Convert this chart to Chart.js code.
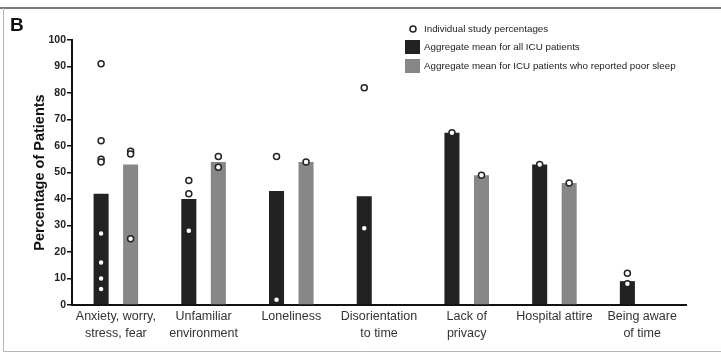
<!DOCTYPE html>
<html>
<head>
<meta charset="utf-8">
<script src="https://cdn.jsdelivr.net/npm/chart.js@4/dist/chart.umd.min.js"></script>
<style>
  html, body { margin: 0; padding: 0; background: #fff; }
  #wrap { width: 721px; height: 353px; position: relative; }
</style>
</head>
<body>
<div id="wrap"><canvas id="c" width="721" height="353"></canvas></div>
<script>
// Sleep-disturbing factors reported by ICU patients
const categories = [
  ['Anxiety, worry,', 'stress, fear'],
  ['Unfamiliar', 'environment'],
  ['Loneliness'],
  ['Disorientation', 'to time'],
  ['Lack of', 'privacy'],
  ['Hospital attire'],
  ['Being aware', 'of time']
];

// Aggregate means (%)
const meanAll  = [42, 40, 43, 41, 65, 53, 9];
const meanPoor = [53, 54, 54, null, 49, 46, null];

// Individual study percentages per category
const studyAll  = [[91, 62, 55, 54, 27, 16, 10, 6], [47, 42, 28], [56, 2], [82, 29], [65], [53], [12, 8]];
const studyPoor = [[58, 57, 25], [56, 52], [54], [], [49], [46], []];

const yTicks = [0, 10, 20, 30, 40, 50, 60, 70, 80, 90, 100];

const legendLabels = [
  'Individual study percentages',
  'Aggregate mean for all ICU patients',
  'Aggregate mean for ICU patients who reported poor sleep'
];

const DARK = '#222222';
const GREY = '#878787';
const CAT_PCT = 0.673;
const BAR_PCT = 0.51;

function drawDot(ctx, x, y) {
  ctx.beginPath();
  ctx.arc(x, y, 3, 0, Math.PI * 2);
  ctx.fillStyle = '#fff';
  ctx.fill();
  ctx.lineWidth = 1.5;
  ctx.strokeStyle = DARK;
  ctx.stroke();
}

// individual study values, drawn on top of the bar they belong to
const studyDots = {
  id: 'studyDots',
  afterDatasetsDraw(chart) {
    const ctx = chart.ctx;
    const y = chart.scales.y;
    ctx.save();
    [studyAll, studyPoor].forEach((lists, dsIndex) => {
      const bars = chart.getDatasetMeta(dsIndex).data;
      lists.forEach((vals, i) => {
        vals.forEach(v => drawDot(ctx, bars[i].x, y.getPixelForValue(v)));
      });
    });
    ctx.restore();
  }
};

const decor = {
  id: 'decor',
  beforeDraw(chart) {
    const ctx = chart.ctx;
    ctx.save();
    ctx.fillStyle = '#fff';
    ctx.fillRect(0, 0, chart.width, chart.height);
    // panel frame
    ctx.strokeStyle = '#7a7a7a';
    ctx.lineWidth = 2;
    ctx.beginPath(); ctx.moveTo(0, 8); ctx.lineTo(721, 8); ctx.stroke();
    ctx.strokeStyle = '#b5b5b5';
    ctx.lineWidth = 1;
    ctx.beginPath(); ctx.moveTo(3.5, 8); ctx.lineTo(3.5, 351.5); ctx.lineTo(721, 351.5); ctx.stroke();
    ctx.restore();
  },
  afterDraw(chart) {
    const ctx = chart.ctx;
    const area = chart.chartArea;
    ctx.save();
    // panel letter
    ctx.fillStyle = '#111';
    ctx.font = 'bold 19px "Liberation Sans", Arial, sans-serif';
    ctx.textBaseline = 'alphabetic';
    ctx.textAlign = 'left';
    ctx.fillText('B', 10, 31);
    // y-axis title
    ctx.translate(40, (area.top + area.bottom) / 2);
    ctx.rotate(-Math.PI / 2);
    ctx.textAlign = 'center';
    ctx.textBaseline = 'middle';
    ctx.font = 'bold 14.5px "Liberation Sans", Arial, sans-serif';
    ctx.fillStyle = '#111';
    ctx.fillText('Percentage of Patients', 0, 0);
    ctx.restore();

    // legend
    ctx.save();
    ctx.font = '9.8px "Liberation Sans", Arial, sans-serif';
    ctx.textBaseline = 'middle';
    ctx.textAlign = 'left';
    const lx = 405, tx = 424;
    const rows = [29, 47, 66];
    drawDot(ctx, lx + 8, rows[0]);
    ctx.fillStyle = DARK; ctx.fillRect(lx, rows[1] - 7, 15, 14);
    ctx.fillStyle = GREY; ctx.fillRect(lx, rows[2] - 7, 15, 14);
    ctx.fillStyle = '#222';
    legendLabels.forEach((t, i) => ctx.fillText(t, tx, rows[i]));
    ctx.restore();
  }
};

new Chart(document.getElementById('c'), {
  type: 'bar',
  data: {
    labels: categories,
    datasets: [
      {
        label: legendLabels[1], data: meanAll, backgroundColor: DARK,
        categoryPercentage: CAT_PCT, barPercentage: BAR_PCT
      },
      {
        label: legendLabels[2], data: meanPoor, backgroundColor: GREY,
        categoryPercentage: CAT_PCT, barPercentage: BAR_PCT
      }
    ]
  },
  options: {
    responsive: false,
    animation: false,
    layout: { padding: { left: 0, right: 35, top: 40, bottom: 0 } },
    plugins: { legend: { display: false }, tooltip: { enabled: false } },
    scales: {
      x: {
        type: 'category',
        grid: { display: false, drawTicks: false },
        border: { display: true, color: '#111', width: 2 },
        ticks: {
          color: '#333', autoSkip: false, maxRotation: 0, padding: 3,
          font: { family: '"Liberation Sans", Arial, sans-serif', size: 12.5, lineHeight: 1.34 }
        },
        afterFit(s) { s.height = 48; }
      },
      y: {
        min: 0, max: 100,
        afterBuildTicks(s) { s.ticks = yTicks.map(v => ({ value: v })); },
        grid: { drawOnChartArea: false, drawTicks: true, tickLength: 5, color: '#111', lineWidth: 1.5 },
        border: { display: true, color: '#111', width: 2 },
        ticks: {
          color: '#222', padding: 1,
          font: { family: '"Liberation Sans", Arial, sans-serif', size: 10.5, weight: 'bold' }
        },
        afterFit(s) { s.width = 72; }
      }
    }
  },
  plugins: [decor, studyDots]
});
</script>
</body>
</html>
